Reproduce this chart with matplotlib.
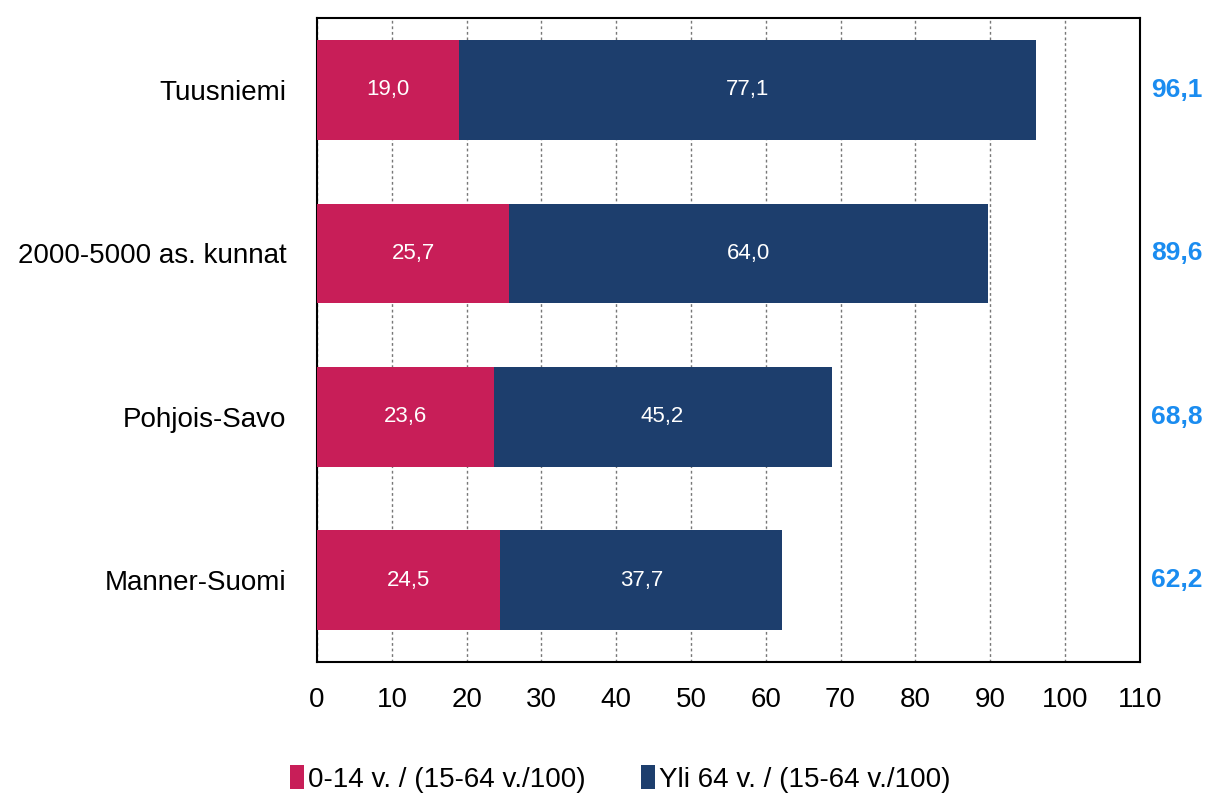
import matplotlib
matplotlib.use("Agg")
import matplotlib.pyplot as plt
import numpy as np

plt.rcParams['font.family'] = ['Liberation Sans Narrow', 'Liberation Sans', 'DejaVu Sans']

# data
categories = ["Tuusniemi", "2000-5000 as. kunnat", "Pohjois-Savo", "Manner-Suomi"]
children = [19.0, 25.7, 23.6, 24.5]
elderly = [77.1, 64.0, 45.2, 37.7]
totals = [96.1, 89.6, 68.8, 62.2]
series_names = ["0-14 v. / (15-64 v./100)", "Yli 64 v. / (15-64 v./100)"]
xticks = list(range(0, 111, 10))

pink = '#c81e58'
navy = '#1d3e6d'
blue = '#1a8cf0'

def fi(v):
    return f"{v:.1f}".replace('.', ',')

fig = plt.figure(figsize=(12.15, 8), dpi=100)
ax = fig.add_axes([0.261, 0.1725, 0.677, 0.805])

y = np.arange(len(categories))
h = 0.61
b1 = ax.barh(y, children, height=h, color=pink, label=series_names[0], zorder=3)
b2 = ax.barh(y, elderly, left=children, height=h, color=navy, label=series_names[1], zorder=3)

for i in range(len(categories)):
    ax.text(children[i] / 2, y[i], fi(children[i]), ha='center', va='center',
            color='white', fontsize=16, zorder=4)
    ax.text(children[i] + elderly[i] / 2, y[i], fi(elderly[i]), ha='center', va='center',
            color='white', fontsize=16, zorder=4)
    ax.text(1.045, y[i], fi(totals[i]), transform=ax.get_yaxis_transform(),
            ha='center', va='center', color=blue, fontsize=19, fontweight='bold')

ax.set_xlim(0, 110)
ax.set_ylim(3.5, -0.44)
ax.set_xticks(xticks)
ax.set_xticklabels([str(t) for t in xticks], fontsize=20)
ax.set_yticks(y)
ax.set_yticklabels(categories, fontsize=20)
ax.tick_params(axis='x', length=0, pad=18)
ax.tick_params(axis='y', length=0, pad=22)
ax.grid(axis='x', color='#777777', linestyle=(0, (2, 2)), linewidth=1, zorder=0)
for s in ax.spines.values():
    s.set_color('black')
    s.set_linewidth(1.5)

fig.legend(handles=[b1, b2], loc='lower left', bbox_to_anchor=(0.218, -0.022), ncol=2,
           frameon=False, fontsize=20, handlelength=0.5, handleheight=0.9,
           handletextpad=0.15, columnspacing=2.0)

fig.savefig("out.png", dpi=100)
